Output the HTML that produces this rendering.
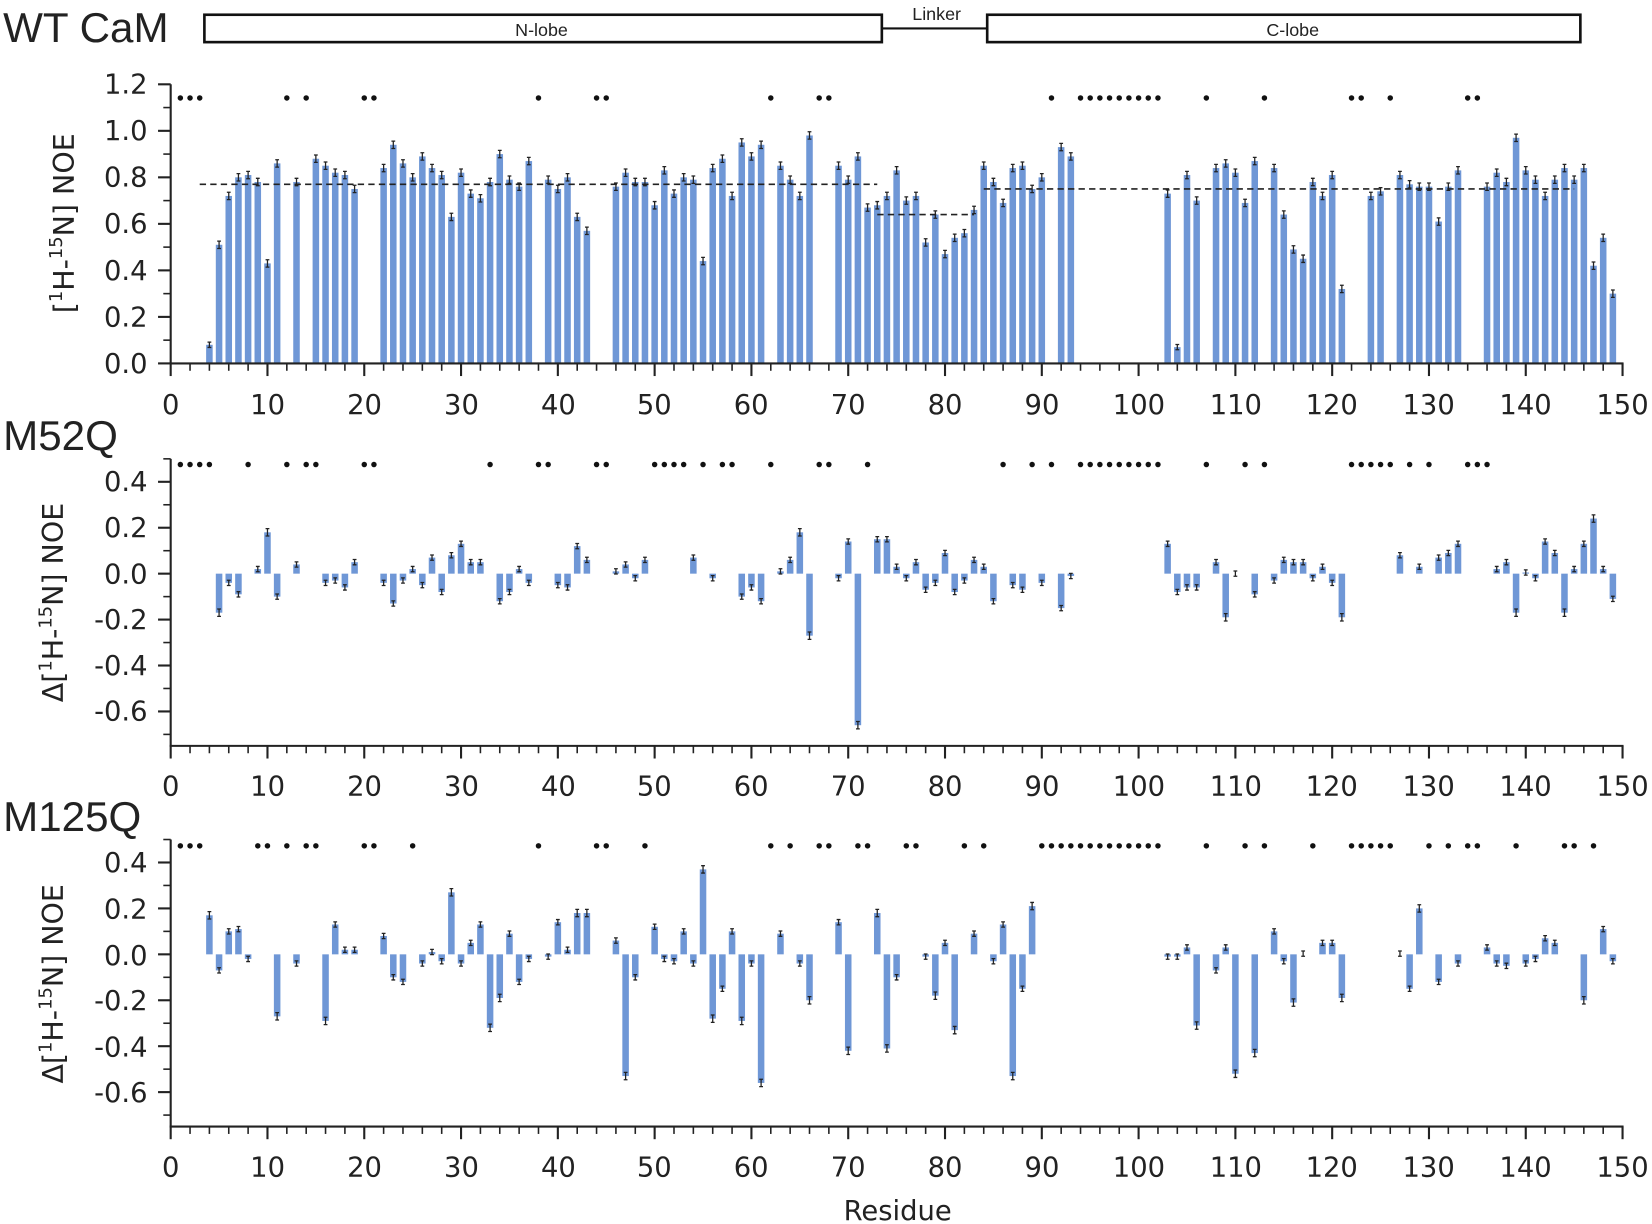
<!DOCTYPE html>
<html><head><meta charset="utf-8"><style>
html,body{margin:0;padding:0;background:#fff;}
svg{display:block;}
text{font-family:"DejaVu Sans","Liberation Sans",sans-serif;fill:#222;}
.t{font-family:"Liberation Sans",sans-serif;}
</style></head><body>
<svg id="s" width="1652" height="1224" viewBox="0 0 1568 1162" preserveAspectRatio="none" xmlns="http://www.w3.org/2000/svg">
<g id="g"></g>
<text class="t" x="3" y="40" font-size="40">WT CaM</text>
<text class="t" x="3" y="427" font-size="40">M52Q</text>
<text class="t" x="3" y="789" font-size="40">M125Q</text>
<rect x="194" y="14" width="643" height="26" fill="none" stroke="#111" stroke-width="2.5"/>
<rect x="937" y="14" width="563" height="26" fill="none" stroke="#111" stroke-width="2.5"/>
<line x1="837" y1="27" x2="937" y2="27" stroke="#111" stroke-width="2"/>
<text class="t" x="514" y="34" font-size="17" text-anchor="middle">N-lobe</text>
<text class="t" x="1227" y="34" font-size="17" text-anchor="middle">C-lobe</text>
<text class="t" x="889" y="19" font-size="17" text-anchor="middle">Linker</text>
<text transform="translate(70,212) rotate(-90)" font-size="27" text-anchor="middle">[<tspan font-size="17" dy="-11">1</tspan><tspan dy="11">H-</tspan><tspan font-size="17" dy="-11">15</tspan><tspan dy="11">N] NOE</tspan></text>
<text transform="translate(60,572) rotate(-90)" font-size="27" text-anchor="middle">Δ[<tspan font-size="17" dy="-11">1</tspan><tspan dy="11">H-</tspan><tspan font-size="17" dy="-11">15</tspan><tspan dy="11">N] NOE</tspan></text>
<text transform="translate(60,934) rotate(-90)" font-size="27" text-anchor="middle">Δ[<tspan font-size="17" dy="-11">1</tspan><tspan dy="11">H-</tspan><tspan font-size="17" dy="-11">15</tspan><tspan dy="11">N] NOE</tspan></text>
<g font-size="26" text-anchor="end">
<text x="140" y="354">0.0</text><text x="140" y="310">0.2</text><text x="140" y="266">0.4</text>
<text x="140" y="221">0.6</text><text x="140" y="177">0.8</text><text x="140" y="133">1.0</text><text x="140" y="89">1.2</text>
<text x="140" y="466">0.4</text><text x="140" y="510">0.2</text><text x="140" y="554">0.0</text><text x="140" y="597">-0.2</text><text x="140" y="641">-0.4</text><text x="140" y="684">-0.6</text>
<text x="140" y="828">0.4</text><text x="140" y="872">0.2</text><text x="140" y="916">0.0</text><text x="140" y="959">-0.2</text><text x="140" y="1003">-0.4</text><text x="140" y="1046">-0.6</text>
</g>
<g font-size="26" text-anchor="middle">
<text x="162" y="393">0</text><text x="254" y="393">10</text><text x="346" y="393">20</text><text x="438" y="393">30</text><text x="530" y="393">40</text><text x="621" y="393">50</text><text x="713" y="393">60</text><text x="805" y="393">70</text><text x="897" y="393">80</text><text x="989" y="393">90</text><text x="1081" y="393">100</text><text x="1173" y="393">110</text><text x="1264" y="393">120</text><text x="1356" y="393">130</text><text x="1448" y="393">140</text><text x="1540" y="393">150</text>
<text x="162" y="755">0</text><text x="254" y="755">10</text><text x="346" y="755">20</text><text x="438" y="755">30</text><text x="530" y="755">40</text><text x="621" y="755">50</text><text x="713" y="755">60</text><text x="805" y="755">70</text><text x="897" y="755">80</text><text x="989" y="755">90</text><text x="1081" y="755">100</text><text x="1173" y="755">110</text><text x="1264" y="755">120</text><text x="1356" y="755">130</text><text x="1448" y="755">140</text><text x="1540" y="755">150</text>
<text x="162" y="1117">0</text><text x="254" y="1117">10</text><text x="346" y="1117">20</text><text x="438" y="1117">30</text><text x="530" y="1117">40</text><text x="621" y="1117">50</text><text x="713" y="1117">60</text><text x="805" y="1117">70</text><text x="897" y="1117">80</text><text x="989" y="1117">90</text><text x="1081" y="1117">100</text><text x="1173" y="1117">110</text><text x="1264" y="1117">120</text><text x="1356" y="1117">130</text><text x="1448" y="1117">140</text><text x="1540" y="1117">150</text>
<text x="852" y="1158">Residue</text>
</g>
</svg>
<script>
(function(){
var NS="http://www.w3.org/2000/svg",g=document.getElementById("g");
function el(t,a){var e=document.createElementNS(NS,t);for(var k in a)e.setAttribute(k,a[k]);g.appendChild(e);return e;}
function X(r){return 162+9.187*r;}
var BW=6.2,COL="#6f97d6";
var P=[
 {y0:345,s:220.8,top:1.2,bot:0,dotY:93,
  d:{4:.08,5:.51,6:.72,7:.80,8:.81,9:.78,10:.43,11:.86,13:.78,15:.88,16:.85,17:.82,18:.81,19:.75,22:.84,23:.94,24:.86,25:.80,26:.89,27:.84,28:.81,29:.63,30:.82,31:.73,32:.71,33:.78,34:.90,35:.79,36:.76,37:.87,39:.79,40:.75,41:.80,42:.63,43:.57,46:.76,47:.82,48:.78,49:.78,50:.68,51:.83,52:.73,53:.80,54:.79,55:.44,56:.84,57:.88,58:.72,59:.95,60:.89,61:.94,63:.85,64:.79,65:.72,66:.98,69:.85,70:.79,71:.89,72:.67,73:.68,74:.72,75:.83,76:.70,77:.72,78:.52,79:.64,80:.47,81:.54,82:.56,83:.66,84:.85,85:.78,86:.69,87:.84,88:.85,89:.75,90:.80,92:.93,93:.89,103:.73,104:.07,105:.81,106:.70,108:.84,109:.86,110:.82,111:.69,112:.87,114:.84,115:.64,116:.49,117:.45,118:.78,119:.72,120:.81,121:.32,124:.72,125:.74,127:.81,128:.77,129:.76,130:.76,131:.61,132:.76,133:.83,136:.76,137:.82,138:.78,139:.97,140:.83,141:.79,142:.72,143:.79,144:.84,145:.79,146:.84,147:.42,148:.54,149:.30},
  dots:[1,2,3,12,14,20,21,38,44,45,62,67,68,91,94,95,96,97,98,99,100,101,102,107,113,122,123,126,134,135],
  dash:[[3,73,.77],[73,83,.64],[84,145,.75]]},
 {y0:544.6,s:218,top:.5,bot:-.75,dotY:441,
  d:{5:-.17,6:-.04,7:-.09,9:.02,10:.18,11:-.10,13:.04,16:-.04,17:-.03,18:-.06,19:.05,22:-.04,23:-.13,24:-.03,25:.02,26:-.05,27:.07,28:-.08,29:.08,30:.13,31:.05,32:.05,34:-.12,35:-.08,36:.02,37:-.04,40:-.05,41:-.06,42:.12,43:.06,46:.01,47:.04,48:-.02,49:.06,54:.07,56:-.02,59:-.10,60:-.06,61:-.12,63:.01,64:.06,65:.18,66:-.27,69:-.02,70:.14,71:-.66,73:.15,74:.15,75:.03,76:-.02,77:.05,78:-.07,79:-.04,80:.09,81:-.08,82:-.03,83:.06,84:.03,85:-.12,87:-.05,88:-.07,90:-.04,92:-.15,93:-.01,103:.13,104:-.08,105:-.06,106:-.06,108:.05,109:-.19,110:0,112:-.09,114:-.03,115:.06,116:.05,117:.05,118:-.02,119:.03,120:-.04,121:-.19,127:.08,129:.03,131:.07,132:.09,133:.13,137:.02,138:.05,139:-.17,140:.005,141:-.02,142:.14,143:.09,144:-.17,145:.02,146:.13,147:.24,148:.02,149:-.11},
  dots:[1,2,3,4,8,12,14,15,20,21,33,38,39,44,45,50,51,52,53,55,57,58,62,67,68,72,86,89,91,94,95,96,97,98,99,100,101,102,107,111,113,122,123,124,125,126,128,130,134,135,136],dash:[]},
 {y0:906,s:218,top:.5,bot:-.75,dotY:803,
  d:{4:.17,5:-.07,6:.10,7:.11,8:-.02,11:-.27,13:-.04,16:-.29,17:.13,18:.02,19:.02,22:.08,23:-.10,24:-.12,26:-.04,27:.01,28:-.03,29:.27,30:-.04,31:.05,32:.13,33:-.32,34:-.19,35:.09,36:-.12,37:-.02,39:-.01,40:.14,41:.02,42:.18,43:.18,46:.06,47:-.53,48:-.10,50:.12,51:-.02,52:-.03,53:.10,54:-.04,55:.37,56:-.28,57:-.15,58:.10,59:-.29,60:-.04,61:-.56,63:.09,65:-.04,66:-.20,69:.14,70:-.42,73:.18,74:-.41,75:-.10,78:-.01,79:-.18,80:.05,81:-.33,83:.09,85:-.03,86:.13,87:-.53,88:-.15,89:.21,103:-.01,104:-.01,105:.03,106:-.31,108:-.07,109:.03,110:-.52,112:-.43,114:.10,115:-.03,116:-.21,117:.003,119:.05,120:.05,121:-.19,127:.003,128:-.15,129:.20,131:-.12,133:-.04,136:.03,137:-.04,138:-.05,140:-.04,141:-.02,142:.07,143:.05,146:-.20,148:.11,149:-.03},
  dots:[1,2,3,9,10,12,14,15,20,21,25,38,44,45,49,62,64,67,68,71,72,76,77,82,84,90,91,92,93,94,95,96,97,98,99,100,101,102,107,111,113,118,122,123,124,125,126,130,132,134,135,139,144,145,147],dash:[]}
];
P.forEach(function(p){
  function Y(v){return p.y0-p.s*v;}
  for(var r in p.d){var v=p.d[r],x=X(+r),y=Y(v),y0=Y(0);
    if(Math.abs(v)>0.004) el("rect",{x:x-BW/2,y:Math.min(y,y0),width:BW,height:Math.abs(y-y0),fill:COL});
    var e=Math.abs(v)>0.15?3.5:2.5;
    el("path",{d:"M"+x+" "+(y-e)+"V"+(y+e)+"M"+(x-1.8)+" "+(y-e)+"h3.6M"+(x-1.8)+" "+(y+e)+"h3.6",stroke:"#222","stroke-width":1.2,fill:"none"});
  }
  p.dots.forEach(function(r){el("circle",{cx:X(r),cy:p.dotY,r:2.6,fill:"#111"});});
  p.dash.forEach(function(d){el("line",{x1:X(d[0]),x2:X(d[1]),y1:Y(d[2]),y2:Y(d[2]),stroke:"#222","stroke-width":1.5,"stroke-dasharray":"6,4"});});
  var yb=Y(p.bot),yt=Y(p.top);
  el("line",{x1:162,x2:162,y1:yt,y2:yb,stroke:"#222","stroke-width":2});
  el("line",{x1:161,x2:1541,y1:yb,y2:yb,stroke:"#222","stroke-width":2});
  for(var r=0;r<=150;r+=2){var M=r%10==0;el("line",{x1:X(r),x2:X(r),y1:yb,y2:yb+(M?12:7),stroke:"#222","stroke-width":M?2:1.5});}
  for(var k=Math.round(p.bot*10);k<=Math.round(p.top*10);k++){var v=k/10,M=(k%2==0);el("line",{x1:162,x2:162-(M?12:7),y1:Y(v),y2:Y(v),stroke:"#222","stroke-width":M?2:1.5});}
});
})();
</script>
</body></html>
